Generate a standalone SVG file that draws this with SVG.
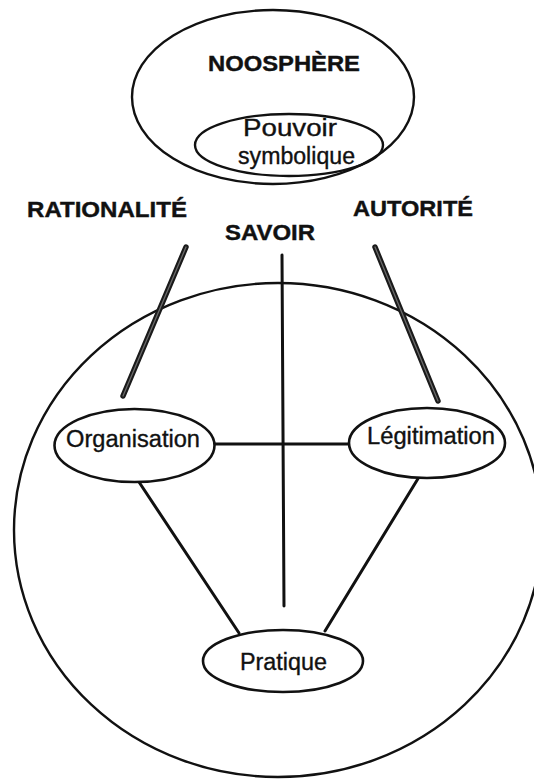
<svg xmlns="http://www.w3.org/2000/svg" width="534" height="779" viewBox="0 0 534 779">
<style>
.shape{fill:none;stroke:#111;stroke-width:2.4}
.node{fill:#fff;stroke:#111;stroke-width:2.6}
.lbl{font-family:"Liberation Sans",Arial,Helvetica,sans-serif;font-size:23px;fill:#111;stroke:#111;stroke-width:0.35}
.bold{font-weight:bold;font-size:22px;stroke-width:0.4}
.conn{stroke:#111;stroke-width:3;stroke-linecap:round;fill:none}
.thick{stroke:#1a1a1a;stroke-width:5.5;stroke-linecap:round;fill:none}
.core{stroke:#6a6a6a;stroke-width:1.3;stroke-linecap:round;fill:none}
</style>
<rect width="534" height="779" fill="#fff"/>
<g id="monde">
<ellipse class="shape" cx="278" cy="530" rx="264" ry="247"/>
</g>
<g id="connectors">
<line class="thick" x1="186" y1="247" x2="123" y2="396"/>
<line class="core" x1="186" y1="247" x2="123" y2="396"/>
<line class="thick" x1="375" y1="247" x2="438" y2="401"/>
<line class="core" x1="375" y1="247" x2="438" y2="401"/>
<line class="conn" x1="282" y1="255" x2="284" y2="606" stroke-linecap="butt"/>
<line class="conn" x1="214" y1="444" x2="349" y2="444"/>
<line class="conn" x1="139" y1="482" x2="239" y2="633"/>
<line class="conn" x1="419" y1="477" x2="325" y2="631"/>
</g>
<g id="labels">
<text class="lbl bold" x="27" y="217" textLength="160" lengthAdjust="spacingAndGlyphs">RATIONALITÉ</text>
<text class="lbl bold" x="225" y="240" textLength="90" lengthAdjust="spacingAndGlyphs">SAVOIR</text>
<text class="lbl bold" x="353" y="216" textLength="120" lengthAdjust="spacingAndGlyphs">AUTORITÉ</text>
</g>
<g id="noosphere">
<ellipse class="shape" cx="273" cy="97" rx="141" ry="87"/>
<text class="lbl bold" x="208" y="71" textLength="152" lengthAdjust="spacingAndGlyphs">NOOSPHÈRE</text>
</g>
<g id="pouvoir-symbolique">
<ellipse class="shape" cx="289" cy="145" rx="94" ry="31"/>
<text class="lbl" x="243" y="136" font-size="22" textLength="94" lengthAdjust="spacingAndGlyphs">Pouvoir</text>
<text class="lbl" x="238" y="164" textLength="117" lengthAdjust="spacingAndGlyphs">symbolique</text>
</g>
<g id="organisation">
<ellipse class="node" cx="134.5" cy="445.5" rx="80" ry="36.5"/>
<text class="lbl" x="66" y="447" textLength="134" lengthAdjust="spacingAndGlyphs">Organisation</text>
</g>
<g id="legitimation">
<ellipse class="node" cx="427" cy="443" rx="78" ry="35"/>
<text class="lbl" x="367" y="444" textLength="128" lengthAdjust="spacingAndGlyphs">Légitimation</text>
</g>
<g id="pratique">
<ellipse class="node" cx="283" cy="661" rx="80" ry="31"/>
<text class="lbl" x="240" y="670" textLength="87" lengthAdjust="spacingAndGlyphs">Pratique</text>
</g>
</svg>
